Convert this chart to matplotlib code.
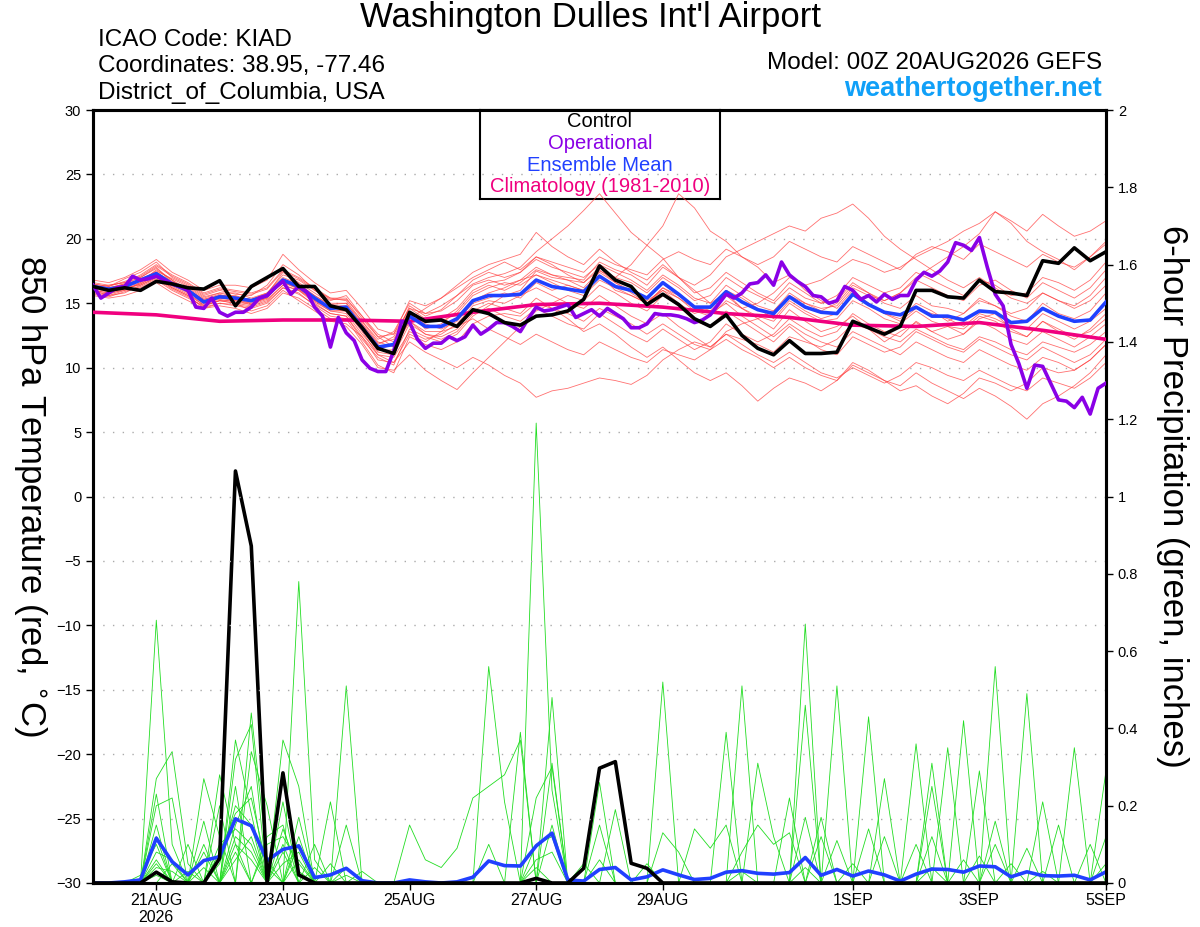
import numpy as np
import matplotlib
matplotlib.use('Agg')
import matplotlib.pyplot as plt

plt.rcParams['font.family'] = ['Liberation Sans', 'DejaVu Sans']

# 시간축 (예보 시작 후 시간)
hours6 = np.arange(0, 385, 6)
hours3 = np.arange(0, 385, 3)
hours24 = np.arange(0, 385, 24)

xtick_hours = [24, 72, 120, 168, 216, 288, 336, 384]
xtick_labels = ['21AUG\n2026', '23AUG', '25AUG', '27AUG', '29AUG', '1SEP', '3SEP', '5SEP']

# 850 hPa 기온 - 6시간 간격, 하루 4개씩 + 마지막 값
control_t = [16.3, 16.0, 16.2, 16.0,  16.7, 16.5, 16.2, 16.1,  16.75, 14.8, 16.3, 17.0,
             17.7, 16.3, 16.3, 14.8,  14.5, 13.1, 11.5, 11.1,  14.3, 13.6, 13.7, 13.2,
             14.5, 14.2, 13.5, 13.3,  14.0, 14.1, 14.4, 15.3,  17.9, 16.8, 16.3, 14.9,
             15.7, 14.9, 13.8, 13.2,  14.1, 12.5, 11.5, 11.0,  12.1, 11.1, 11.1, 11.2,
             13.6, 13.1, 12.6, 13.2,  16.0, 16.0, 15.5, 15.4,  16.8, 15.9, 15.8, 15.6,
             18.3, 18.1, 19.3, 18.3,  19.0]

mean_t = [16.3, 16.1, 16.3, 16.8,  17.3, 16.5, 16.0, 15.1,  15.5, 15.4, 15.2, 15.6,
          16.8, 16.3, 15.4, 14.6,  14.7, 13.1, 11.6, 11.8,  14.0, 13.2, 13.2, 13.8,
          15.2, 15.6, 15.6, 15.7,  16.8, 16.3, 16.1, 15.9,  17.1, 16.3, 16.0, 15.4,
          16.6, 15.7, 14.7, 14.7,  15.9, 15.1, 14.5, 14.2,  15.5, 14.7, 14.3, 14.2,
          15.7, 14.9, 14.3, 14.1,  14.7, 14.0, 14.0, 13.7,  14.4, 14.3, 13.5, 13.6,
          14.6, 14.0, 13.6, 13.7,  15.1]

# operational 은 3시간 간격
oper_t = [16.4, 15.4, 15.8, 16.2, 16.3, 17.1, 16.8, 16.9,
          17.1, 16.8, 16.5, 16.3, 16.0, 14.7, 14.6, 15.4,
          14.3, 14.0, 14.3, 14.3, 14.7, 15.4, 15.6, 16.2,
          16.7, 15.7, 16.3, 15.9, 14.7, 14.0, 11.6, 13.9,
          12.7, 12.1, 10.6, 9.95, 9.7, 9.7, 11.3, 13.6,
          13.5, 12.2, 11.5, 11.9, 11.9, 12.4, 12.1, 12.4,
          13.3, 12.6, 13.0, 13.5, 13.5, 13.2, 12.8, 13.8,
          14.7, 14.4, 14.5, 14.7, 14.9, 13.9, 14.2, 14.5,
          14.0, 14.6, 14.2, 13.8, 13.1, 13.1, 13.4, 14.2,
          14.1, 14.1, 14.0, 13.8, 13.5, 13.7, 14.1, 14.9,
          15.7, 15.4, 15.8, 16.5, 16.6, 17.2, 16.4, 18.2,
          17.2, 16.7, 16.3, 15.6, 15.5, 15.0, 15.2, 16.3,
          16.0, 15.3, 15.6, 15.1, 15.7, 15.3, 15.6, 15.6,
          16.8, 17.4, 17.1, 17.5, 18.2, 19.7, 19.5, 19.1,
          20.1, 17.8, 15.7, 14.8, 11.8, 10.3, 8.4, 10.2,
          10.1, 8.8, 7.5, 7.4, 6.9, 7.7, 6.4, 8.4,
          8.8]

# 기후값 (1981-2010), 하루 1개
clim_t = [14.3, 14.1, 13.6, 13.7, 13.7, 13.6, 14.3, 14.9, 15.0,
          14.7, 14.2, 13.9, 13.3, 13.2, 13.5, 12.9, 12.2]

# 앙상블 멤버 기온
member_t = [
    [16.5, 16.3, 16.9, 17.4, 18.2, 17.0, 16.4, 15.6, 16.0, 15.7, 15.6, 16.4,
     18.0, 17.2, 16.0, 15.2, 15.6, 14.0, 12.6, 12.0, 14.8, 14.0, 14.5, 15.6,
     16.5, 17.0, 17.3, 17.8, 19.0, 20.0, 21.0, 22.2, 23.5, 22.0, 20.5, 19.5,
     18.5, 17.0, 16.0, 15.0, 15.8, 14.6, 13.8, 13.0, 14.5, 13.6, 12.8, 13.2,
     14.0, 13.0, 12.0, 12.8, 13.5, 12.8, 13.2, 12.6, 13.8, 14.2, 13.0, 12.4,
     13.6, 12.8, 12.2, 13.0, 14.2],
    [16.0, 15.8, 16.0, 16.6, 17.6, 16.8, 15.8, 14.8, 15.2, 15.0, 14.8, 15.2,
     16.4, 16.0, 15.0, 14.2, 14.0, 12.2, 10.8, 10.2, 13.0, 12.4, 12.0, 12.6,
     14.0, 14.8, 15.6, 16.0, 17.5, 17.0, 16.8, 16.2, 17.5, 17.0, 18.0, 19.5,
     21.0, 23.5, 22.4, 20.6, 19.8, 18.6, 17.8, 16.6, 17.2, 16.0, 15.2, 14.6,
     16.0, 15.0, 14.2, 13.8, 15.0, 14.4, 13.6, 14.2, 15.4, 14.8, 14.0, 13.6,
     15.0, 14.2, 13.8, 14.4, 15.8],
    [16.2, 16.4, 16.6, 17.0, 17.8, 16.6, 16.2, 15.4, 15.8, 15.8, 15.4, 15.8,
     17.2, 16.8, 16.0, 15.4, 15.2, 13.6, 12.0, 11.6, 14.2, 13.0, 13.4, 14.4,
     15.8, 16.4, 16.0, 16.6, 17.6, 17.2, 17.0, 16.8, 18.2, 17.6, 17.2, 16.4,
     17.8, 17.0, 16.4, 17.2, 18.6, 19.2, 19.8, 20.4, 21.0, 20.6, 21.6, 22.0,
     22.7, 21.6, 20.2, 19.2, 18.4, 17.6, 16.8, 16.2, 17.0, 16.2, 15.4, 15.0,
     15.8, 15.2, 14.8, 15.6, 17.0],
    [16.4, 16.0, 16.4, 16.9, 17.4, 16.7, 16.0, 15.0, 15.4, 15.2, 15.0, 15.4,
     16.9, 16.4, 15.6, 14.8, 14.8, 13.4, 11.8, 12.4, 14.6, 13.8, 13.6, 14.2,
     15.6, 16.2, 16.6, 16.4, 17.2, 16.8, 16.4, 16.0, 17.4, 16.6, 16.0, 15.2,
     16.0, 15.4, 14.4, 14.0, 15.2, 14.6, 15.0, 15.8, 17.0, 16.4, 16.8, 17.6,
     18.4, 18.0, 17.4, 17.8, 18.6, 19.2, 19.8, 20.6, 21.2, 22.1, 21.4, 20.6,
     21.9, 21.0, 20.2, 20.6, 21.4],
    [16.0, 15.6, 15.8, 16.4, 17.0, 16.2, 15.6, 14.6, 15.0, 14.8, 14.6, 15.0,
     16.2, 15.8, 14.8, 14.0, 13.8, 12.0, 10.2, 9.6, 12.4, 11.8, 11.4, 12.0,
     13.4, 14.0, 14.2, 14.0, 15.0, 14.6, 14.2, 13.6, 14.6, 14.0, 13.4, 12.6,
     13.4, 12.6, 11.8, 11.4, 12.2, 11.4, 10.8, 10.0, 10.8, 10.0, 9.4, 9.0,
     10.2, 9.6, 9.0, 8.6, 9.6, 8.8, 8.2, 7.6, 8.4, 7.8, 7.0, 6.0,
     7.2, 7.8, 8.6, 9.6, 11.0],
    [15.8, 15.6, 16.0, 16.2, 16.8, 16.0, 15.4, 14.8, 15.2, 15.0, 14.4, 14.8,
     16.0, 15.2, 14.4, 13.6, 13.4, 12.4, 11.0, 10.4, 12.0, 11.2, 10.6, 10.0,
     10.8, 10.2, 9.4, 8.8, 7.7, 8.2, 8.4, 8.8, 9.2, 9.0, 8.7, 9.4,
     10.6, 11.4, 12.0, 11.6, 12.6, 12.2, 11.8, 11.2, 12.4, 12.0, 11.6, 12.2,
     13.4, 13.0, 12.4, 12.0, 13.0, 12.4, 11.8, 11.4, 12.4, 12.0, 11.4, 11.0,
     12.0, 11.6, 11.2, 11.8, 12.8],
    [16.6, 16.4, 16.6, 17.2, 18.0, 17.2, 16.6, 15.8, 16.2, 16.0, 15.8, 16.2,
     17.6, 17.0, 16.2, 15.4, 15.4, 13.8, 12.4, 11.6, 13.6, 12.6, 12.4, 13.0,
     14.4, 15.0, 14.6, 14.2, 15.4, 14.6, 13.8, 12.8, 13.4, 12.6, 11.6, 10.8,
     11.6, 10.6, 9.6, 9.0, 9.6, 8.6, 7.4, 8.4, 9.2, 8.8, 8.2, 9.0,
     10.4, 9.8, 9.0, 8.2, 8.6, 7.8, 7.2, 8.0, 9.2, 8.8, 8.2, 8.8,
     10.0, 9.6, 9.8, 10.6, 11.8],
    [16.2, 16.0, 16.2, 16.6, 17.2, 16.4, 15.8, 15.2, 15.6, 15.6, 15.2, 15.6,
     16.6, 16.2, 15.2, 14.6, 14.6, 13.0, 11.4, 11.8, 14.0, 13.4, 13.0, 13.6,
     15.0, 15.4, 15.8, 15.4, 16.6, 16.0, 16.4, 16.0, 17.2, 16.0, 15.6, 15.0,
     16.2, 15.4, 14.6, 14.4, 15.6, 14.6, 14.0, 13.6, 15.0, 14.2, 13.6, 13.8,
     15.2, 14.6, 13.8, 13.4, 14.4, 13.6, 13.2, 13.0, 14.0, 13.6, 12.8, 12.4,
     13.6, 13.0, 12.4, 12.8, 13.8],
    [16.8, 16.6, 17.0, 17.6, 18.4, 17.4, 16.8, 16.0, 16.4, 16.4, 16.2, 16.8,
     18.8, 17.6, 16.6, 15.8, 16.0, 14.6, 13.0, 12.6, 15.2, 14.8, 15.4, 16.4,
     17.4, 18.0, 18.4, 18.8, 20.5, 19.4, 18.6, 18.0, 19.2, 18.2, 17.4, 16.8,
     18.0, 17.0, 15.8, 16.2, 17.4, 16.6, 15.8, 15.2, 16.6, 15.8, 15.0, 15.6,
     17.0, 16.4, 15.8, 16.2, 17.4, 16.8, 16.2, 15.6, 16.8, 16.4, 15.6, 15.8,
     17.0, 16.6, 16.0, 16.8, 18.2],
    [15.6, 15.4, 15.6, 16.0, 16.6, 15.8, 15.2, 14.6, 14.8, 14.6, 14.2, 14.6,
     15.8, 15.4, 14.6, 13.8, 13.2, 11.8, 10.0, 9.8, 11.0, 9.8, 9.0, 8.3,
     9.6, 10.8, 12.0, 13.2, 14.4, 15.0, 15.6, 15.2, 16.4, 15.8, 15.0, 14.4,
     15.6, 14.8, 13.6, 13.2, 14.4, 13.6, 12.8, 12.0, 13.2, 12.2, 11.4, 11.0,
     12.4, 11.8, 11.2, 11.6, 12.8, 12.2, 11.6, 11.2, 12.2, 11.6, 11.0, 10.6,
     11.6, 11.0, 10.4, 11.0, 12.2],
    [16.1, 16.2, 16.5, 16.8, 17.5, 16.9, 16.3, 15.5, 15.8, 15.5, 15.3, 15.7,
     17.4, 16.6, 15.8, 15.0, 15.0, 13.4, 11.9, 12.2, 14.4, 13.6, 13.8, 14.6,
     16.0, 16.6, 16.8, 17.4, 18.4, 17.8, 17.4, 17.0, 18.0, 17.4, 16.8, 16.0,
     17.2, 16.4, 15.4, 15.0, 16.4, 15.6, 14.8, 14.4, 15.8, 15.0, 14.6, 14.8,
     16.2, 15.6, 15.2, 15.8, 17.0, 17.8, 18.6, 19.4, 20.4, 22.1, 21.2, 19.8,
     19.0, 18.4, 17.6, 18.6, 19.6],
    [16.0, 15.8, 16.2, 16.4, 17.0, 16.2, 15.6, 14.9, 15.2, 15.2, 14.9, 15.3,
     16.4, 16.0, 15.2, 14.4, 14.2, 12.6, 11.2, 11.0, 13.4, 12.6, 12.2, 12.8,
     14.2, 14.6, 14.0, 13.6, 14.6, 14.0, 13.4, 13.0, 14.2, 13.4, 12.6, 12.0,
     13.0, 12.2, 11.4, 12.0, 13.4, 12.6, 12.0, 12.6, 13.8, 13.0, 12.4, 12.8,
     14.2, 13.4, 12.8, 12.4, 13.6, 12.8, 12.2, 12.6, 13.6, 13.0, 12.2, 11.8,
     12.8, 12.2, 11.6, 12.4, 13.4],
    [16.4, 16.2, 16.5, 17.0, 17.7, 16.8, 16.1, 15.3, 15.6, 15.5, 15.3, 15.8,
     17.0, 16.5, 15.6, 14.9, 15.0, 13.6, 12.2, 12.8, 15.0, 14.2, 14.4, 15.2,
     16.4, 16.8, 16.4, 16.8, 17.8, 17.2, 16.8, 16.6, 17.8, 17.0, 16.6, 15.8,
     17.0, 16.2, 15.2, 15.6, 17.0, 16.2, 15.6, 15.0, 16.2, 15.4, 15.0, 15.2,
     16.6, 15.8, 15.0, 14.6, 15.6, 14.8, 14.6, 14.2, 15.2, 14.8, 14.2, 14.6,
     15.8, 15.2, 14.6, 15.2, 16.4],
    [15.9, 15.7, 16.1, 16.5, 17.1, 16.3, 15.7, 15.0, 15.3, 15.1, 14.9, 15.5,
     16.6, 16.1, 15.1, 14.4, 14.4, 12.8, 11.0, 10.8, 12.8, 12.2, 12.6, 13.4,
     14.8, 15.2, 15.0, 15.6, 16.2, 15.6, 15.0, 14.6, 15.6, 14.8, 14.0, 13.4,
     14.2, 13.2, 12.4, 11.6, 12.6, 11.8, 11.0, 10.4, 11.2, 10.4, 9.6, 9.2,
     10.0, 9.4, 8.8, 9.4, 10.4, 10.0, 9.4, 9.0, 9.8, 9.2, 8.6, 8.2,
     9.2, 8.8, 8.4, 9.2, 10.4],
    [16.3, 16.1, 16.4, 16.7, 17.4, 16.6, 16.0, 15.3, 15.7, 15.3, 15.1, 15.5,
     16.8, 16.2, 15.3, 14.7, 14.6, 13.2, 11.5, 11.2, 13.8, 14.6, 15.4, 16.2,
     17.0, 17.6, 18.2, 17.6, 18.6, 18.0, 17.2, 16.6, 17.6, 16.6, 15.8, 15.0,
     16.0, 15.0, 14.2, 14.6, 16.0, 15.4, 14.6, 13.8, 15.2, 14.4, 13.8, 14.2,
     15.6, 15.0, 14.2, 13.6, 14.6, 14.2, 13.8, 13.2, 14.2, 13.8, 13.2, 13.0,
     14.2, 13.6, 13.0, 13.6, 14.6],
    [16.1, 15.9, 16.1, 16.5, 17.2, 16.4, 15.9, 15.1, 15.4, 15.3, 15.0, 15.4,
     16.7, 16.1, 15.3, 14.5, 14.4, 12.9, 11.3, 11.4, 13.6, 12.8, 12.8, 13.2,
     13.8, 13.0, 12.4, 11.8, 12.6, 12.0, 11.4, 11.0, 12.0, 11.4, 10.8, 10.4,
     11.4, 11.0, 10.6, 11.4, 12.8, 13.4, 13.8, 14.4, 15.6, 15.0, 14.4, 15.0,
     16.4, 15.8, 15.2, 15.8, 16.8, 16.2, 15.6, 15.2, 16.4, 16.8, 16.0, 15.4,
     16.6, 16.0, 15.4, 16.2, 17.6],
    [16.5, 16.3, 16.7, 17.1, 17.9, 17.1, 16.5, 15.7, 16.1, 15.9, 15.7, 16.1,
     17.5, 16.9, 16.1, 15.3, 15.3, 14.0, 12.4, 12.6, 14.6, 14.2, 14.8, 15.6,
     16.8, 17.4, 17.0, 17.4, 18.6, 18.2, 17.8, 17.4, 18.6, 18.0, 17.6, 17.2,
     18.4, 19.0, 18.4, 18.0, 19.2, 18.6, 18.0, 18.6, 19.8, 19.2, 18.6, 18.2,
     19.4, 18.8, 18.2, 17.6, 18.8, 19.4, 19.0, 18.4, 19.6, 19.0, 18.4, 17.8,
     18.8, 18.2, 17.8, 18.6, 19.8],
    [15.7, 15.5, 15.9, 16.3, 16.9, 16.1, 15.5, 14.7, 15.0, 14.9, 14.7, 15.1,
     16.2, 15.7, 14.9, 14.2, 14.0, 12.4, 10.6, 10.4, 12.6, 12.0, 12.8, 13.8,
     15.2, 15.8, 16.2, 16.8, 17.2, 16.6, 16.0, 15.6, 16.8, 16.2, 15.6, 15.0,
     16.2, 15.6, 14.8, 14.2, 15.0, 14.0, 13.2, 12.4, 13.4, 12.6, 12.0, 11.6,
     12.8, 12.2, 11.6, 11.0, 12.0, 11.4, 10.8, 10.4, 11.4, 10.8, 10.2, 9.8,
     10.8, 10.4, 9.8, 10.6, 11.8],
]

# 6시간 강수량 (inches)
control_p = [0, 0, 0, 0,  0.028, 0.003, 0, 0,  0.064, 1.066, 0.872, 0,
             0.285, 0.021, 0, 0,  0, 0, 0, 0,  0, 0, 0, 0,
             0, 0, 0, 0,  0.012, 0, 0, 0.038,  0.297, 0.314, 0.051, 0.038,
             0, 0, 0, 0,  0, 0, 0, 0,  0, 0, 0, 0,
             0, 0, 0, 0,  0, 0, 0, 0,  0, 0, 0, 0,
             0, 0, 0, 0,  0]

mean_p = [0, 0, 0.003, 0.008,  0.116, 0.055, 0.021, 0.058,  0.068, 0.166, 0.148, 0.058,
          0.087, 0.096, 0.014, 0.021,  0.038, 0.006, 0, 0,  0.008, 0.003, 0, 0.003,
          0.015, 0.057, 0.045, 0.044,  0.096, 0.129, 0.008, 0.005,  0.035, 0.040, 0.008, 0.016,
          0.034, 0.021, 0.009, 0.012,  0.028, 0.032, 0.025, 0.023,  0.027, 0.066, 0.020, 0.035,
          0.018, 0.031, 0.021, 0.005,  0.023, 0.036, 0.035, 0.028,  0.044, 0.042, 0.016, 0.029,
          0.019, 0.018, 0.020, 0.008,  0.029]

member_p = [
    [0, 0, 0, 0, 0.68, 0.10, 0, 0, 0, 0.15, 0.25, 0,
     0, 0.10, 0, 0, 0, 0, 0, 0, 0, 0, 0, 0,
     0, 0, 0, 0, 1.19, 0.24, 0, 0, 0, 0, 0, 0,
     0, 0, 0, 0, 0, 0, 0, 0, 0, 0.67, 0, 0,
     0, 0, 0, 0, 0, 0, 0, 0, 0, 0.16, 0, 0,
     0, 0, 0, 0, 0],
    [0, 0, 0, 0, 0.27, 0.34, 0.05, 0, 0, 0.37, 0.18, 0,
     0, 0.78, 0.06, 0, 0, 0, 0, 0, 0, 0, 0, 0,
     0, 0.56, 0.21, 0, 0, 0, 0, 0, 0, 0, 0, 0,
     0, 0, 0, 0, 0, 0.51, 0, 0, 0, 0, 0, 0,
     0, 0, 0, 0, 0, 0, 0, 0.42, 0, 0, 0, 0,
     0, 0, 0.35, 0, 0],
    [0, 0, 0, 0, 0.23, 0, 0, 0.27, 0.12, 0, 0.44, 0.06,
     0, 0, 0, 0, 0.51, 0, 0, 0, 0, 0, 0, 0,
     0, 0, 0, 0.39, 0, 0, 0, 0, 0, 0, 0, 0,
     0.52, 0, 0, 0, 0, 0, 0, 0, 0, 0, 0, 0,
     0, 0.43, 0, 0, 0, 0, 0, 0, 0, 0, 0, 0,
     0, 0, 0, 0, 0.29],
    [0, 0, 0, 0, 0.20, 0.22, 0, 0, 0.28, 0.10, 0, 0,
     0.37, 0.25, 0, 0, 0, 0, 0, 0, 0, 0, 0, 0,
     0, 0, 0, 0, 0, 0.48, 0, 0, 0, 0, 0, 0,
     0, 0, 0, 0, 0.39, 0, 0, 0, 0, 0, 0, 0.51,
     0, 0, 0, 0, 0, 0, 0, 0, 0, 0, 0, 0.49,
     0, 0, 0, 0, 0],
    [0, 0, 0, 0, 0.15, 0, 0, 0.16, 0, 0.32, 0.41, 0,
     0.21, 0, 0, 0.21, 0, 0, 0, 0, 0.15, 0.06, 0.04, 0.09,
     0.22, 0.25, 0.28, 0.37, 0, 0, 0, 0, 0, 0, 0, 0,
     0, 0, 0, 0, 0, 0, 0, 0, 0, 0, 0, 0,
     0, 0, 0, 0, 0.36, 0, 0, 0, 0, 0, 0, 0,
     0, 0, 0, 0, 0],
    [0, 0, 0, 0, 0.12, 0, 0.10, 0, 0.20, 0, 0.34, 0.20,
     0, 0.17, 0, 0, 0, 0, 0, 0, 0, 0, 0, 0,
     0, 0, 0, 0, 0, 0.31, 0, 0, 0.26, 0, 0, 0,
     0, 0, 0, 0, 0, 0, 0, 0, 0, 0.46, 0, 0,
     0, 0, 0, 0, 0, 0.31, 0, 0, 0, 0.56, 0, 0,
     0, 0, 0, 0, 0],
    [0, 0, 0, 0, 0.08, 0.06, 0, 0.08, 0, 0.25, 0, 0.12,
     0.15, 0, 0, 0, 0.15, 0, 0, 0, 0, 0, 0, 0,
     0, 0, 0, 0, 0.22, 0.30, 0, 0, 0, 0, 0, 0,
     0, 0, 0, 0, 0, 0, 0.31, 0.12, 0, 0, 0, 0,
     0, 0, 0, 0, 0, 0, 0.35, 0, 0, 0, 0, 0,
     0, 0, 0, 0, 0.12],
    [0, 0, 0, 0, 0.05, 0, 0, 0, 0, 0.06, 0.12, 0,
     0.08, 0, 0.10, 0, 0.04, 0, 0, 0, 0, 0, 0, 0,
     0, 0.10, 0, 0, 0, 0.15, 0, 0, 0, 0.19, 0, 0,
     0, 0, 0, 0, 0, 0, 0, 0, 0.22, 0, 0, 0,
     0, 0, 0.27, 0, 0, 0, 0, 0, 0.29, 0, 0, 0,
     0, 0.15, 0, 0, 0],
    [0, 0, 0, 0.02, 0.10, 0, 0, 0, 0.05, 0.20, 0.15, 0,
     0, 0.06, 0, 0.05, 0, 0, 0, 0, 0, 0, 0, 0,
     0, 0, 0, 0, 0, 0, 0, 0, 0.15, 0, 0, 0,
     0, 0, 0.14, 0.09, 0.15, 0, 0, 0, 0, 0, 0.17, 0,
     0, 0, 0, 0, 0, 0.25, 0, 0, 0, 0, 0, 0,
     0.21, 0, 0, 0, 0],
    [0, 0, 0, 0, 0.04, 0.03, 0, 0, 0, 0.12, 0.08, 0,
     0.05, 0.08, 0, 0, 0, 0.03, 0, 0, 0, 0, 0, 0,
     0, 0, 0, 0, 0, 0, 0, 0.05, 0, 0, 0, 0,
     0.13, 0.08, 0, 0, 0, 0, 0, 0, 0, 0.17, 0, 0,
     0, 0.14, 0, 0, 0, 0, 0, 0, 0.07, 0, 0, 0.09,
     0, 0, 0, 0, 0],
    [0, 0, 0, 0, 0.03, 0, 0, 0.04, 0, 0.08, 0, 0.10,
     0.12, 0.05, 0, 0, 0, 0, 0, 0, 0, 0, 0, 0,
     0, 0, 0, 0, 0, 0, 0, 0, 0, 0, 0, 0.05,
     0, 0, 0, 0, 0, 0.08, 0.15, 0.10, 0.13, 0, 0, 0.11,
     0, 0, 0, 0, 0, 0.12, 0, 0, 0, 0, 0.05, 0,
     0, 0, 0, 0.10, 0],
    [0, 0, 0, 0, 0.06, 0, 0.03, 0, 0.10, 0.14, 0.10, 0,
     0.10, 0, 0.04, 0, 0, 0, 0, 0, 0, 0, 0, 0,
     0, 0, 0, 0, 0.04, 0, 0, 0, 0, 0, 0, 0,
     0, 0, 0, 0, 0, 0, 0, 0, 0, 0, 0.12, 0,
     0.05, 0, 0.12, 0, 0.10, 0, 0, 0, 0, 0.10, 0, 0,
     0, 0, 0, 0, 0],
    [0, 0, 0, 0, 0, 0.05, 0, 0, 0.08, 0.18, 0.22, 0.04,
     0, 0.12, 0, 0, 0.02, 0, 0, 0, 0, 0, 0, 0,
     0, 0, 0, 0, 0.06, 0.08, 0, 0, 0, 0, 0, 0,
     0, 0, 0, 0, 0, 0, 0, 0, 0, 0.04, 0, 0,
     0, 0, 0, 0, 0, 0, 0, 0.06, 0, 0, 0, 0,
     0, 0, 0, 0, 0.05],
    [0, 0, 0, 0, 0.02, 0, 0, 0.10, 0, 0.10, 0.06, 0,
     0.14, 0.03, 0, 0, 0, 0, 0, 0, 0, 0, 0, 0,
     0, 0, 0, 0, 0.10, 0.12, 0, 0, 0.06, 0, 0, 0,
     0, 0, 0, 0, 0, 0.03, 0, 0, 0, 0, 0, 0,
     0, 0, 0, 0, 0, 0.04, 0, 0, 0, 0, 0, 0,
     0.03, 0, 0, 0, 0],
]

c_oper = '#8a00e6'
c_mean = '#2040ff'
c_clim = '#f0007f'
c_red = '#ff4040'
c_green = '#22dd22'

fig = plt.figure(figsize=(12, 9.27), dpi=100)
ax = fig.add_axes([93/1200, 44/927, 1013/1200, 773/927])
ax2 = ax.twinx()

# 강수 (오른쪽 축)
for p in member_p:
    ax2.plot(hours6, p, color=c_green, lw=0.6, zorder=1)
ax2.plot(hours6, mean_p, color=c_mean, lw=2.6, zorder=3)
ax2.plot(hours6, control_p, color='black', lw=2.6, zorder=4)

# 기온 (왼쪽 축)
for t in member_t:
    ax.plot(hours6, t, color=c_red, lw=0.6, alpha=0.75, zorder=2)
ax.plot(hours24, clim_t, color=c_clim, lw=2.6, zorder=3)
ax.plot(hours6, mean_t, color=c_mean, lw=2.6, zorder=4)
ax.plot(hours3, oper_t, color=c_oper, lw=2.6, zorder=5)
ax.plot(hours6, control_t, color='black', lw=2.6, zorder=6)

ax.set_zorder(ax2.get_zorder() + 1)
ax.patch.set_visible(False)

ax.set_xlim(0, 384)
ax.set_ylim(-30, 30)
ax2.set_ylim(0, 2)

ax.set_yticks(np.arange(-30, 31, 5))
ax2.set_yticks(np.arange(0, 2.01, 0.2))
ax2.set_yticklabels(['%g' % v for v in np.round(np.arange(0, 2.01, 0.2), 1)])
ax.set_xticks(xtick_hours)
ax.set_xticklabels(xtick_labels)

for y in range(-25, 30, 5):
    ax.axhline(y, color='#aaaaaa', lw=1.0, ls=(0, (1, 6)), zorder=0)

for a in (ax, ax2):
    for s in a.spines.values():
        s.set_linewidth(2.2)
    a.tick_params(labelsize=10.5, direction='out', length=5, width=1.0)
ax.tick_params(axis='x', labelsize=11.5, pad=2)

# 축 제목 (위에서 아래로 읽히게)
fig.text(30/1200, 1 - 496/927, '850 hPa Temperature (red, $^{\\circ}$C)', fontsize=25,
         rotation=270, ha='center', va='center')
fig.text(1172/1200, 1 - 496/927, '6-hour Precipitation (green, inches)', fontsize=25,
         rotation=270, ha='center', va='center')

# 제목과 정보
fig.text(590/1200, 1 - 18/927, "Washington Dulles Int'l Airport", fontsize=25,
         ha='center', va='center')
fig.text(98/1200, 1 - 40/927, 'ICAO Code: KIAD', fontsize=17.5, ha='left', va='center')
fig.text(98/1200, 1 - 66/927, 'Coordinates: 38.95, -77.46', fontsize=17.5, ha='left', va='center')
fig.text(98/1200, 1 - 93/927, 'District_of_Columbia, USA', fontsize=17.5, ha='left', va='center')
fig.text(1102/1200, 1 - 63/927, 'Model: 00Z 20AUG2026 GEFS', fontsize=17.5, ha='right', va='center')
fig.text(1102/1200, 1 - 89/927, 'weathertogether.net', fontsize=19.5, ha='right', va='center',
         color='#10a0f8', fontweight='bold')

# 범례 박스
leg_ax = fig.add_axes([480/1200, 1 - 199/927, 240/1200, 89/927])
leg_ax.set_xticks([])
leg_ax.set_yticks([])
for s in leg_ax.spines.values():
    s.set_linewidth(1.5)
leg_items = [('Control', 'black'), ('Operational', c_oper),
             ('Ensemble Mean', c_mean), ('Climatology (1981-2010)', c_clim)]
for i, (txt, col) in enumerate(leg_items):
    leg_ax.text(0.5, 0.87 - i * 0.245, txt, color=col, fontsize=14.5,
                ha='center', va='center', transform=leg_ax.transAxes)

fig.savefig('out.png', dpi=100)
